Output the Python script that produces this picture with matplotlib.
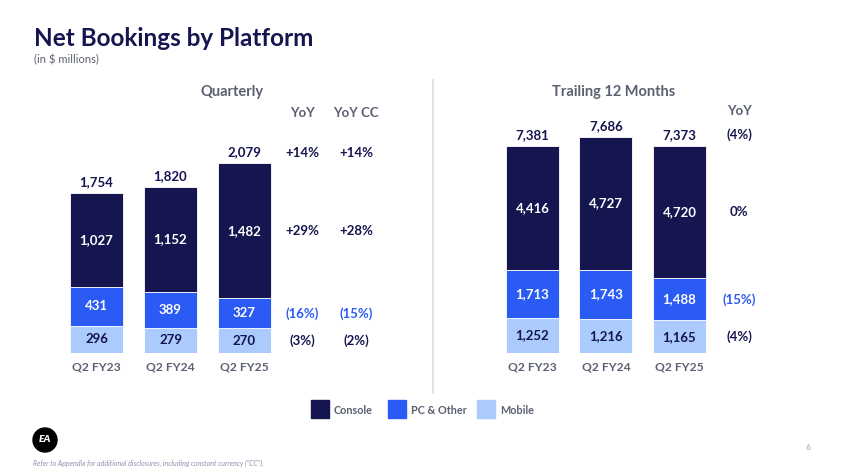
import matplotlib
matplotlib.use("Agg")
import matplotlib.pyplot as plt
from matplotlib.patches import Rectangle, Circle
from matplotlib.lines import Line2D

plt.rcParams['font.family'] = ['Lato', 'DejaVu Sans']

# ---------------- data ----------------
categories = ["Q2 FY23", "Q2 FY24", "Q2 FY25"]
series_names = ["Console", "PC & Other", "Mobile"]

q_console = [1027, 1152, 1482]
q_pc = [431, 389, 327]
q_mobile = [296, 279, 270]
q_total = [1754, 1820, 2079]
q_yoy = ["+14%", "+29%", "(16%)", "(3%)"]      # total, console, pc, mobile
q_yoy_cc = ["+14%", "+28%", "(15%)", "(2%)"]

t_console = [4416, 4727, 4720]
t_pc = [1713, 1743, 1488]
t_mobile = [1252, 1216, 1165]
t_total = [7381, 7686, 7373]
t_yoy = ["(4%)", "0%", "(15%)", "(4%)"]

# ---------------- style ----------------
C_CONSOLE = "#15154f"
C_PC = "#2a5bf5"
C_MOBILE = "#aacbfb"
NAVY = "#15154f"
GRAY = "#5b6072"
BLUE_TXT = "#2a5bf5"
VAL_FS = 9.5

W, H = 845, 474
fig = plt.figure(figsize=(W / 100, H / 100), dpi=100)
fig.patch.set_facecolor("white")


def fx(px):
    return px / W


def fy(py):
    return 1 - py / H


def make_axes(x0, x1, base_py, top_py, c0, spacing, ppu):
    ax = fig.add_axes([fx(x0), fy(base_py), fx(x1 - x0), (base_py - top_py) / H])
    left = -(c0 - x0) / spacing
    right = left + (x1 - x0) / spacing
    ax.set_xlim(left, right)
    ax.set_ylim(0, (base_py - top_py) / ppu)
    ax.axis("off")
    return ax


def draw_stack(ax, console, pc, mobile, total, width, ppu):
    xs = list(range(len(categories)))
    ax.bar(xs, mobile, width=width, color=C_MOBILE, edgecolor="white", linewidth=0.6)
    ax.bar(xs, pc, bottom=mobile, width=width, color=C_PC, edgecolor="white", linewidth=0.6)
    bottoms = [m + p for m, p in zip(mobile, pc)]
    ax.bar(xs, console, bottom=bottoms, width=width, color=C_CONSOLE, edgecolor="white", linewidth=0.6)
    for i in xs:
        ax.text(i, mobile[i] / 2, f"{mobile[i]:,}", ha="center", va="center",
                color=NAVY, fontsize=VAL_FS, fontweight="bold")
        ax.text(i, mobile[i] + pc[i] / 2, f"{pc[i]:,}", ha="center", va="center",
                color="white", fontsize=VAL_FS, fontweight="bold")
        ax.text(i, bottoms[i] + console[i] / 2, f"{console[i]:,}", ha="center", va="center",
                color="white", fontsize=VAL_FS, fontweight="bold")
        ax.text(i, total[i] + 5 / ppu, f"{total[i]:,}", ha="center", va="bottom",
                color=NAVY, fontsize=VAL_FS, fontweight="bold")
        ax.text(i, -14 / ppu, categories[i], ha="center", va="center",
                color=GRAY, fontsize=8.7, fontweight="bold")
    return bottoms


# ---------------- quarterly ----------------
q_ppu = 0.0913
axq = make_axes(30, 420, 353, 53, 96.5, 74, q_ppu)
q_bottoms = draw_stack(axq, q_console, q_pc, q_mobile, q_total, 53 / 74, q_ppu)
last = len(categories) - 1
q_ys = [q_total[last] + 4 / q_ppu,
        q_bottoms[last] + q_console[last] / 2,
        q_mobile[last] + q_pc[last] / 2,
        q_mobile[last] / 2]
q_cols = [NAVY, NAVY, BLUE_TXT, NAVY]
for k in range(4):
    axq.text(last + (302 - 244) / 74, q_ys[k], q_yoy[k], ha="center",
             va="bottom" if k == 0 else "center", color=q_cols[k], fontsize=VAL_FS, fontweight="bold")
    axq.text(last + (356 - 244) / 74, q_ys[k], q_yoy_cc[k], ha="center",
             va="bottom" if k == 0 else "center", color=q_cols[k], fontsize=VAL_FS, fontweight="bold")

# ---------------- trailing 12 months ----------------
t_ppu = 0.0281
axt = make_axes(440, 840, 353, 53, 532.5, 73.5, t_ppu)
t_bottoms = draw_stack(axt, t_console, t_pc, t_mobile, t_total, 53 / 73.5, t_ppu)
t_ys = [t_total[last] + 5 / t_ppu,
        t_bottoms[last] + t_console[last] / 2,
        t_mobile[last] + t_pc[last] / 2,
        t_mobile[last] / 2]
for k in range(4):
    axt.text(last + (739 - 679.5) / 73.5, t_ys[k], t_yoy[k], ha="center",
             va="bottom" if k == 0 else "center", color=q_cols[k], fontsize=VAL_FS, fontweight="bold")

# ---------------- headers ----------------
fig.text(fx(34), fy(38), "Net Bookings by Platform", ha="left", va="center",
         color=NAVY, fontsize=17.5, fontweight="bold")
fig.text(fx(34), fy(60), "(in $ millions)", ha="left", va="center", color=GRAY, fontsize=8)
fig.text(fx(232), fy(92), "Quarterly", ha="center", va="center", color=GRAY, fontsize=10.5, fontweight="bold")
fig.text(fx(302), fy(113), "YoY", ha="center", va="center", color=GRAY, fontsize=9.5, fontweight="bold")
fig.text(fx(356), fy(113), "YoY CC", ha="center", va="center", color=GRAY, fontsize=9.5, fontweight="bold")
fig.text(fx(614), fy(92), "Trailing 12 Months", ha="center", va="center", color=GRAY, fontsize=10.5, fontweight="bold")
fig.text(fx(739), fy(111), "YoY", ha="center", va="center", color=GRAY, fontsize=9.5, fontweight="bold")

# divider
fig.add_artist(Line2D([fx(433), fx(433)], [fy(80), fy(393)], color="#dcdde3", lw=1.2))

# ---------------- legend ----------------
leg_colors = [C_CONSOLE, C_PC, C_MOBILE]
leg_x = [311, 388, 477]
for name, col, x in zip(series_names, leg_colors, leg_x):
    fig.add_artist(Rectangle((fx(x), fy(418)), fx(18), 18 / H, color=col, transform=fig.transFigure))
    fig.text(fx(x + 23), fy(410), name, ha="left", va="center", color=GRAY, fontsize=7.8, fontweight="bold")

# ---------------- footer ----------------
fig.add_artist(Circle((0.45, (H - 440) / 100), 0.12, color="black", transform=fig.dpi_scale_trans))
fig.text(fx(45), fy(440), "EA", ha="center", va="center", color="white", fontsize=7.5,
         fontweight="heavy", style="italic")
fig.text(fx(33), fy(463), 'Refer to Appendix for additional disclosures, including constant currency (\u201cCC\u201d).',
         ha="left", va="center", color="#8a93a8", fontsize=5, style="italic")
fig.text(fx(808), fy(447), "6", ha="center", va="center", color="#9aa0ad", fontsize=6)

fig.savefig("out.png", dpi=100, facecolor="white")
